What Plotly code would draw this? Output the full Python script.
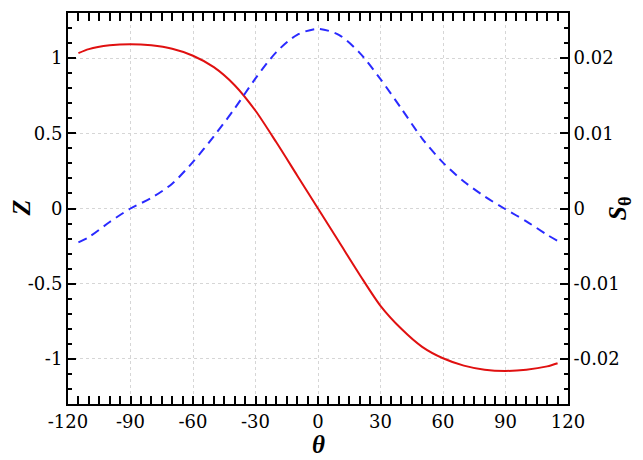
import plotly.graph_objects as go

theta = [-115, -110, -100, -90, -80, -70, -60, -50, -40, -30, -20, -10, 0,
         10, 20, 30, 40, 50, 60, 70, 80, 90, 100, 110, 115]
z_vals = [1.033, 1.060, 1.085, 1.093, 1.085, 1.062, 1.016, 0.94, 0.82, 0.65, 0.44, 0.22, 0.0,
          -0.22, -0.44, -0.647, -0.80, -0.92, -0.996, -1.045, -1.072, -1.08, -1.072, -1.05, -1.029]
s_vals = [-0.0045, -0.0038, -0.0018, 0.0, 0.0014, 0.0033, 0.0062, 0.0096, 0.0133, 0.0173, 0.0208, 0.0231, 0.0239,
          0.0231, 0.0207, 0.0172, 0.0133, 0.0093, 0.0061, 0.0036, 0.0016, -0.0001, -0.0017, -0.0035, -0.0043]

x_ticks = [-120, -90, -60, -30, 0, 30, 60, 90, 120]
x_labels = ["-120", "-90", "-60", "-30", "0", "30", "60", "90", "120"]
z_ticks = [-1, -0.5, 0, 0.5, 1]
z_labels = ["-1", "-0.5", "0", "0.5", "1"]
s_ticks = [-0.02, -0.01, 0, 0.01, 0.02]
s_labels = ["-0.02", "-0.01", "0", "0.01", "0.02"]

FONT = "DejaVu Serif"
TFONT = "Liberation Serif"

fig = go.Figure()
fig.add_trace(go.Scatter(x=theta, y=z_vals, mode="lines",
                         line=dict(color="#e01010", width=2, shape="spline", smoothing=0.8),
                         showlegend=False))
fig.add_trace(go.Scatter(x=theta, y=s_vals, mode="lines", yaxis="y2",
                         line=dict(color="#2a2aff", width=2, dash="9px,6px", shape="spline", smoothing=0.8),
                         showlegend=False))

common = dict(showline=True, linecolor="black", linewidth=2, ticks="inside", ticklen=8, tickwidth=2,
              tickcolor="black", tickfont=dict(family=FONT, size=18, color="black"), zeroline=False,
              automargin=False)

fig.update_layout(
    width=635, height=452,
    margin=dict(l=60, r=75, t=5, b=56),
    paper_bgcolor="white", plot_bgcolor="white",
    xaxis=dict(range=[-120, 120], tickvals=x_ticks, ticktext=x_labels, mirror="allticks",
               showgrid=True, gridcolor="#d6d6d6", griddash="dot", gridwidth=1,
               minor=dict(dtick=5, tick0=0, ticks="inside", ticklen=4, tickwidth=1.5, tickcolor="black", showgrid=False),
               **common),
    yaxis=dict(range=[-1.3, 1.3], tickvals=z_ticks, ticktext=z_labels,
               showgrid=True, gridcolor="#d6d6d6", griddash="dot", gridwidth=1,
               minor=dict(dtick=0.1, tick0=0, ticks="inside", ticklen=4, tickwidth=1.5, tickcolor="black", showgrid=False),
               **common),
    yaxis2=dict(range=[-0.026, 0.026], tickvals=s_ticks, ticktext=s_labels, overlaying="y", side="right",
                showgrid=False,
                minor=dict(dtick=0.002, tick0=0, ticks="inside", ticklen=4, tickwidth=1.5, tickcolor="black", showgrid=False),
                **common),
    annotations=[
        dict(text="<b><i>θ</i></b>", xref="paper", yref="paper", x=0.5, y=-0.104,
             showarrow=False, font=dict(family=TFONT, size=25, color="black"), xanchor="center", yanchor="middle"),
        dict(text="<b><i>Z</i></b>", xref="paper", yref="paper", x=-0.094, y=0.5, textangle=-90,
             showarrow=False, font=dict(family=TFONT, size=26, color="black"), xanchor="center", yanchor="middle"),
        dict(text="<b><i>S</i></b><sub><b>θ</b></sub>", xref="paper", yref="paper", x=1.1, y=0.5, textangle=-90,
             showarrow=False, font=dict(family=TFONT, size=26, color="black"), xanchor="center", yanchor="middle"),
    ],
)

fig.write_html("out.html")
